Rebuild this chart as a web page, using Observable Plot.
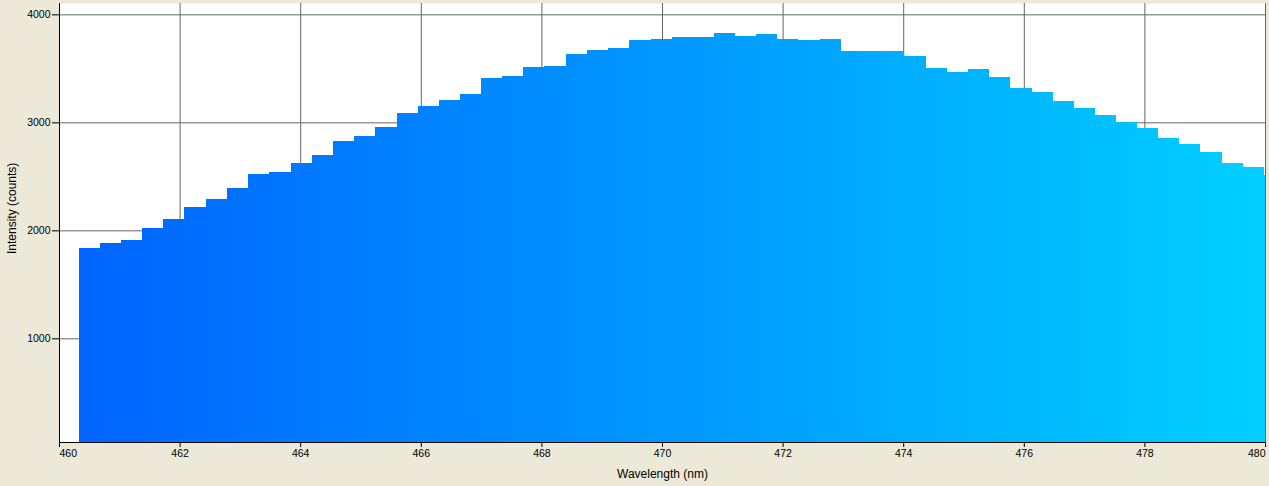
<!DOCTYPE html>
<html>
<head>
<meta charset="utf-8">
<script src="https://cdn.jsdelivr.net/npm/d3@7"></script>
<script src="https://cdn.jsdelivr.net/npm/@observablehq/plot@0.6"></script>
<style>
  html, body { margin: 0; padding: 0; background: #ECE9D8; }
  #chart { width: 1269px; height: 486px; overflow: hidden; }
</style>
</head>
<body>
<div id="chart"></div>
<script>
// Bin edges (nm) of each spectrometer bin (58 edges -> 57 bins)
const binEdges = [
  460.33, 460.68, 461.03, 461.38, 461.73, 462.08, 462.44, 462.79, 463.14, 463.49,
  463.84, 464.19, 464.54, 464.89, 465.24, 465.60, 465.95, 466.30, 466.65, 467.00,
  467.35, 467.70, 468.05, 468.40, 468.75, 469.11, 469.46, 469.81, 470.16, 470.51,
  470.86, 471.21, 471.56, 471.91, 472.26, 472.62, 472.97, 473.32, 473.67, 474.02,
  474.37, 474.72, 475.07, 475.42, 475.77, 476.13, 476.48, 476.83, 477.18, 477.53,
  477.88, 478.23, 478.58, 478.93, 479.28, 479.64, 479.99, 480.34
];
// Intensity (counts) of each bin
const intensity = [
  1836, 1882, 1910, 2021, 2105, 2216, 2290, 2392, 2521, 2540,
  2623, 2697, 2827, 2873, 2956, 3086, 3151, 3206, 3262, 3410,
  3429, 3512, 3521, 3632, 3669, 3688, 3762, 3771, 3790, 3790,
  3827, 3799, 3818, 3771, 3762, 3771, 3660, 3660, 3660, 3614,
  3503, 3466, 3494, 3419, 3318, 3281, 3197, 3133, 3068, 3003,
  2947, 2855, 2799, 2725, 2623, 2586, 2512
];
const xTicks = [460, 462, 464, 466, 468, 470, 472, 474, 476, 478, 480];
const yTicks = [1000, 2000, 3000, 4000];
const xLabel = "Wavelength (nm)";
const yLabel = "Intensity (counts)";
const xDomain = [460, 480];
const yDomain = [40, 4105];
const gradStops = ["#0064FF", "#0098FF", "#00CFFF"];

const bins = intensity.map((v, i) => ({x1: binEdges[i], x2: binEdges[i + 1], v}));
const fmt = d => String(d);
const xAxisOpts = {tickSize: 5, tickPadding: 2, stroke: "#000", fill: "#000", tickFormat: fmt, label: null};

const chart = Plot.plot({
  width: 1269,
  height: 486,
  marginLeft: 59,
  marginRight: 4,
  marginTop: 3,
  marginBottom: 44,
  style: {
    background: "#ECE9D8",
    fontFamily: "'Liberation Sans', Arial, sans-serif",
    fontSize: "10.5px",
    color: "#000"
  },
  x: {domain: xDomain, ticks: xTicks, label: null},
  y: {domain: yDomain, ticks: yTicks, label: null},
  marks: [
    Plot.frame({fill: "white", stroke: null}),
    Plot.gridX(xTicks, {stroke: "#666", strokeOpacity: 1}),
    Plot.gridY(yTicks, {stroke: "#666", strokeOpacity: 1}),
    Plot.rect(bins, {x1: "x1", x2: "x2", y1: 0, y2: "v", fill: "url(#specGrad)", clip: true, shapeRendering: "crispEdges"}),
    Plot.ruleY([yDomain[0]], {stroke: "#000"}),
    Plot.ruleX([xDomain[0]], {stroke: "#000"}),
    Plot.axisX(xTicks.slice(1, -1), xAxisOpts),
    Plot.axisX(xTicks.slice(0, 1), {...xAxisOpts, textAnchor: "start"}),
    Plot.axisX(xTicks.slice(-1), {...xAxisOpts, textAnchor: "end"}),
    Plot.axisY(yTicks, {tickSize: 7, tickPadding: 2, stroke: "#000", fill: "#000", tickFormat: fmt, label: null}),
    Plot.text([xLabel], {frameAnchor: "bottom", dy: 32, lineAnchor: "middle", fontSize: 12, fill: "#000"}),
    Plot.text([yLabel], {frameAnchor: "left", dx: -47, dy: 31, rotate: -90, lineAnchor: "middle", fontSize: 12, fill: "#000"})
  ]
});

const xs = chart.scale("x");
const gx1 = xs.apply(binEdges[0]);
const gx2 = xs.apply(xDomain[1]);
const defs = d3.select(chart).insert("defs", ":first-child");
const lg = defs.append("linearGradient")
  .attr("id", "specGrad")
  .attr("gradientUnits", "userSpaceOnUse")
  .attr("x1", gx1).attr("x2", gx2).attr("y1", 0).attr("y2", 0);
gradStops.forEach((c, i) => {
  lg.append("stop").attr("offset", (100 * i / (gradStops.length - 1)) + "%").attr("stop-color", c);
});

document.getElementById("chart").appendChild(chart);
</script>
</body>
</html>
